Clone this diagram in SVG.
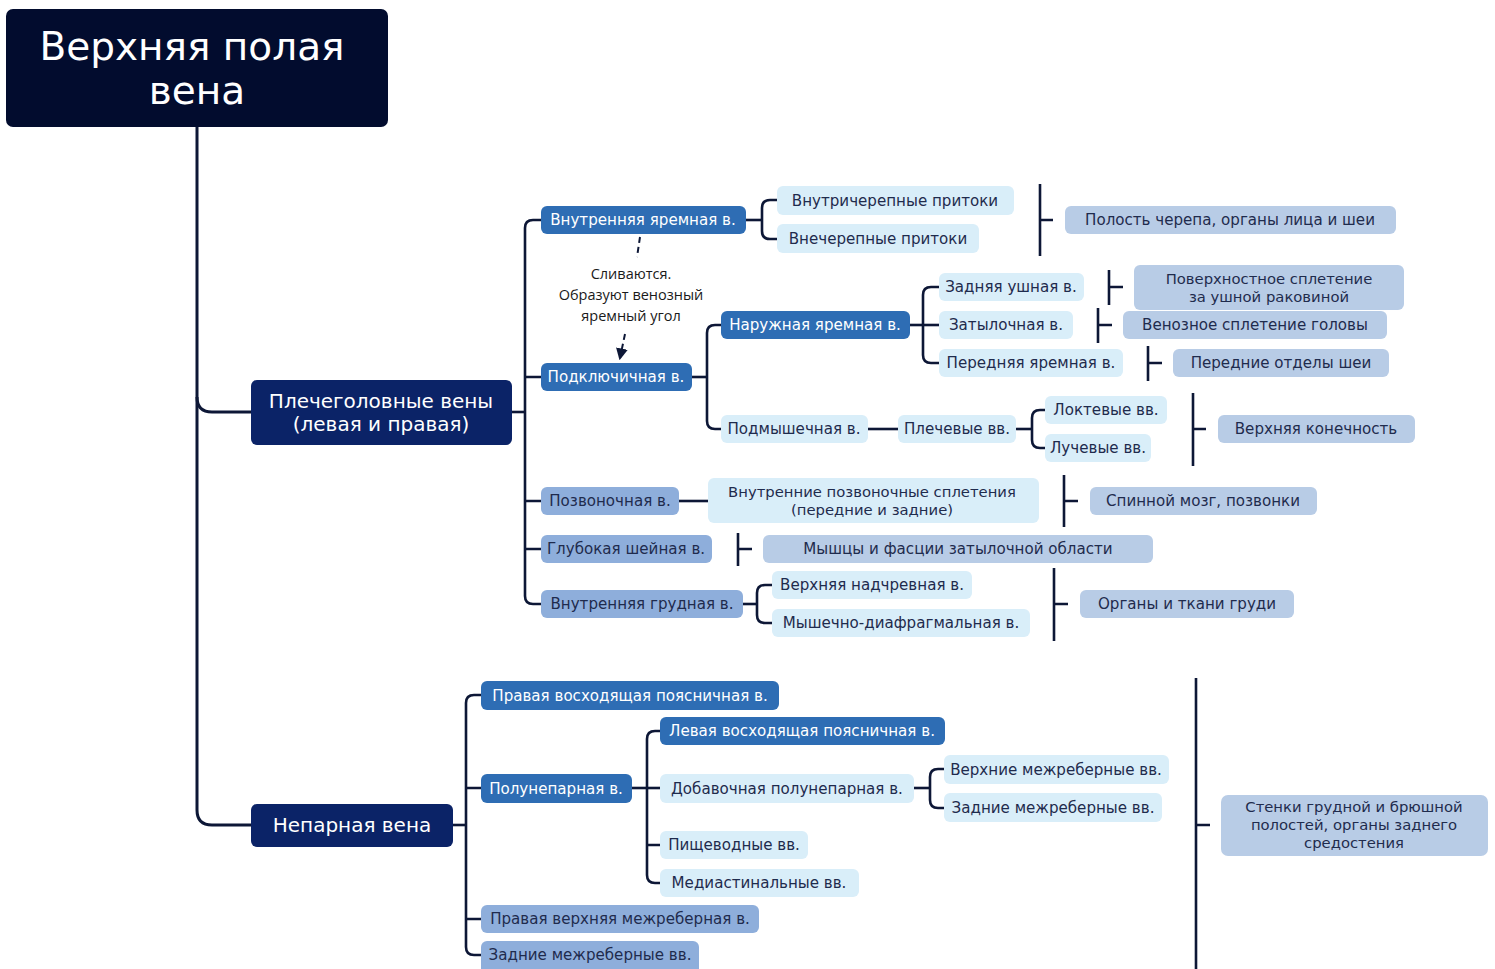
<svg xmlns="http://www.w3.org/2000/svg" width="1495" height="969" viewBox="0 0 1495 969">
<defs>
<style>
text{font-family:"DejaVu Sans","Open Sans",sans-serif;text-anchor:middle}
.t0{fill:#020c2e}.c1{fill:#0b2367}.c2{fill:#2e6db4}.c3{fill:#8eaedb}.c4{fill:#d9eef9}.c5{fill:#b8cce6}
.tw{fill:#ffffff;font-size:15.1px}.td{fill:#1f2b4d;font-size:15.1px}
.tm{fill:#1f2b4d;font-size:14.8px}
.big{fill:#ffffff;font-size:20px}
.title{fill:#ffffff;font-size:39px}
.note{fill:#1a1a1a;font-size:14.5px;font-family:"Open Sans","Noto Sans",sans-serif}
.ln{fill:none;stroke:#0d1736;stroke-width:2.6;stroke-linecap:butt}
.root{fill:none;stroke:#0d1736;stroke-width:3}
.dash{fill:none;stroke:#0d1736;stroke-width:2;stroke-dasharray:6 4}
</style>
<marker id="ah" viewBox="0 0 10 10" refX="8" refY="5" markerWidth="6" markerHeight="6" orient="auto">
<path d="M0,0 L10,5 L0,10 z" fill="#0d1736"/>
</marker>
</defs>
<rect width="1495" height="969" fill="#ffffff"/>
<g id="connectors">
<path class="root" d="M197,127 V810 Q197,825 212,825 H251"/>
<path class="root" d="M197,397 Q197,412 212,412 H251"/>
<path class="ln" d="M512,412 H525"/>
<path class="ln" d="M541,220 H533 Q525,220 525,228 V596 Q525,604 533,604 H541"/>
<path class="ln" d="M525,377 H541 M525,501 H541 M525,549 H541"/>
<path class="ln" d="M746,220 H762"/>
<path class="ln" d="M777,200 H770 Q762,200 762,208 V231 Q762,239 770,239 H777"/>
<path class="ln" d="M1040,184 V256 M1040,220 H1053"/>
<path class="ln" d="M692,377 H707"/>
<path class="ln" d="M721,325 H715 Q707,325 707,333 V421 Q707,429 715,429 H721"/>
<path class="ln" d="M910,325 H939"/>
<path class="ln" d="M939,287 H931 Q923,287 923,295 V355 Q923,363 931,363 H939"/>
<path class="ln" d="M1109,270 V305 M1109,287 H1123"/>
<path class="ln" d="M1098,308 V343 M1098,325 H1112"/>
<path class="ln" d="M1148,346 V381 M1148,363 H1162"/>
<path class="ln" d="M868,429 H898"/>
<path class="ln" d="M1016,429 H1032"/>
<path class="ln" d="M1045,410 H1040 Q1032,410 1032,418 V440 Q1032,448 1040,448 H1045"/>
<path class="ln" d="M1193,393 V466 M1193,429 H1206"/>
<path class="ln" d="M679,501 H708"/>
<path class="ln" d="M1064,475 V527 M1064,501 H1078"/>
<path class="ln" d="M738,533 V566 M738,549 H752"/>
<path class="ln" d="M743,604 H757"/>
<path class="ln" d="M772,585 H765 Q757,585 757,593 V615 Q757,623 765,623 H772"/>
<path class="ln" d="M1054,568 V641 M1054,604 H1068"/>
<path class="ln" d="M453,825 H466"/>
<path class="ln" d="M481,695 H474 Q466,695 466,703 V947 Q466,955 474,955 H481"/>
<path class="ln" d="M466,788 H481 M466,919 H481"/>
<path class="ln" d="M632,788 H660"/>
<path class="ln" d="M660,731 H655 Q647,731 647,739 V875 Q647,883 655,883 H660 M647,845 H660"/>
<path class="ln" d="M914,788 H930"/>
<path class="ln" d="M944,769 H938 Q930,769 930,777 V800 Q930,808 938,808 H944"/>
<path class="ln" d="M1196,678 V969 M1196,825 H1210"/>
<path class="dash" d="M640,237 L637,257"/>
<path class="dash" d="M625,334 L620,358" marker-end="url(#ah)"/>
</g>
<g id="title"><rect class="t0" x="6" y="9" width="382" height="118" rx="7"/><text class="title" x="192" y="60">Верхняя полая</text><text class="title" x="197" y="104">вена</text></g>
<g id="note"><text class="note" x="631" y="279">Сливаются.</text><text class="note" x="631" y="300">Образуют венозный</text><text class="note" x="631" y="321">яремный угол</text></g>
<g id="n-brachio"><rect class="c1" x="251" y="380" width="261" height="65" rx="6"/><text class="big" x="381" y="408">Плечеголовные вены</text><text class="big" x="381" y="431">(левая и правая)</text></g>
<g id="n-ijv"><rect class="c2" x="541" y="206" width="205" height="28" rx="6"/><text class="tw" x="643" y="225">Внутренняя яремная в.</text></g>
<g id="n-intracr"><rect class="c4" x="777" y="186" width="237" height="29" rx="6"/><text class="td" x="895" y="206">Внутричерепные притоки</text></g>
<g id="n-extracr"><rect class="c4" x="777" y="224" width="202" height="29" rx="6"/><text class="td" x="878" y="244">Внечерепные притоки</text></g>
<g id="n-cavity"><rect class="c5" x="1065" y="206" width="331" height="28" rx="6"/><text class="td" x="1230" y="225">Полость черепа, органы лица и шеи</text></g>
<g id="n-subcl"><rect class="c2" x="541" y="363" width="151" height="28" rx="6"/><text class="tw" x="616" y="382">Подключичная в.</text></g>
<g id="n-ejv"><rect class="c2" x="721" y="311" width="189" height="28" rx="6"/><text class="tw" x="815" y="330">Наружная яремная в.</text></g>
<g id="n-postaur"><rect class="c4" x="939" y="273" width="145" height="28" rx="6"/><text class="td" x="1011" y="292">Задняя ушная в.</text></g>
<g id="n-occ"><rect class="c4" x="939" y="311" width="134" height="28" rx="6"/><text class="td" x="1006" y="330">Затылочная в.</text></g>
<g id="n-ajv"><rect class="c4" x="939" y="349" width="184" height="28" rx="6"/><text class="td" x="1031" y="368">Передняя яремная в.</text></g>
<g id="n-plexaur"><rect class="c5" x="1134" y="265" width="270" height="45" rx="6"/><text class="tm" x="1269" y="283.5">Поверхностное сплетение</text><text class="tm" x="1269" y="301.5">за ушной раковиной</text></g>
<g id="n-plexhead"><rect class="c5" x="1123" y="311" width="264" height="28" rx="6"/><text class="td" x="1255" y="330">Венозное сплетение головы</text></g>
<g id="n-neck"><rect class="c5" x="1173" y="349" width="216" height="28" rx="6"/><text class="td" x="1281" y="368">Передние отделы шеи</text></g>
<g id="n-axil"><rect class="c4" x="721" y="415" width="147" height="28" rx="6"/><text class="td" x="794" y="434">Подмышечная в.</text></g>
<g id="n-brach"><rect class="c4" x="898" y="415" width="118" height="28" rx="6"/><text class="td" x="957" y="434">Плечевые вв.</text></g>
<g id="n-ulnar"><rect class="c4" x="1045" y="396" width="122" height="28" rx="6"/><text class="td" x="1106" y="415">Локтевые вв.</text></g>
<g id="n-radial"><rect class="c4" x="1045" y="434" width="106" height="28" rx="6"/><text class="td" x="1098" y="453">Лучевые вв.</text></g>
<g id="n-limb"><rect class="c5" x="1218" y="415" width="197" height="28" rx="6"/><text class="td" x="1316" y="434">Верхняя конечность</text></g>
<g id="n-vert"><rect class="c3" x="541" y="487" width="138" height="28" rx="6"/><text class="td" x="610" y="506">Позвоночная в.</text></g>
<g id="n-vplex"><rect class="c4" x="708" y="478" width="331" height="45" rx="6"/><text class="tm" x="872" y="496.5">Внутренние позвоночные сплетения</text><text class="tm" x="872" y="514.5">(передние и задние)</text></g>
<g id="n-spine"><rect class="c5" x="1090" y="487" width="227" height="28" rx="6"/><text class="td" x="1203" y="506">Спинной мозг, позвонки</text></g>
<g id="n-deepc"><rect class="c3" x="541" y="535" width="171" height="28" rx="6"/><text class="td" x="626" y="554">Глубокая шейная в.</text></g>
<g id="n-muscles"><rect class="c5" x="763" y="535" width="390" height="28" rx="6"/><text class="td" x="958" y="554">Мышцы и фасции затылочной области</text></g>
<g id="n-ithor"><rect class="c3" x="541" y="590" width="202" height="28" rx="6"/><text class="td" x="642" y="609">Внутренняя грудная в.</text></g>
<g id="n-supepi"><rect class="c4" x="772" y="571" width="200" height="28" rx="6"/><text class="td" x="872" y="590">Верхняя надчревная в.</text></g>
<g id="n-musphr"><rect class="c4" x="772" y="609" width="258" height="28" rx="6"/><text class="td" x="901" y="628">Мышечно-диафрагмальная в.</text></g>
<g id="n-chest"><rect class="c5" x="1080" y="590" width="214" height="28" rx="6"/><text class="td" x="1187" y="609">Органы и ткани груди</text></g>
<g id="n-azygos"><rect class="c1" x="251" y="804" width="202" height="43" rx="6"/><text class="big" x="352" y="832">Непарная вена</text></g>
<g id="n-ralv"><rect class="c2" x="481" y="681" width="298" height="29" rx="6"/><text class="tw" x="630" y="701">Правая восходящая поясничная в.</text></g>
<g id="n-hemi"><rect class="c2" x="481" y="774" width="151" height="29" rx="6"/><text class="tw" x="556" y="794">Полунепарная в.</text></g>
<g id="n-lalv"><rect class="c2" x="660" y="717" width="285" height="28" rx="6"/><text class="tw" x="802" y="736">Левая восходящая поясничная в.</text></g>
<g id="n-acchemi"><rect class="c4" x="660" y="774" width="254" height="29" rx="6"/><text class="td" x="787" y="794">Добавочная полунепарная в.</text></g>
<g id="n-supic"><rect class="c4" x="944" y="755" width="225" height="29" rx="6"/><text class="td" x="1056" y="775">Верхние межреберные вв.</text></g>
<g id="n-postic1"><rect class="c4" x="944" y="793" width="218" height="29" rx="6"/><text class="td" x="1053" y="813">Задние межреберные вв.</text></g>
<g id="n-esoph"><rect class="c4" x="660" y="831" width="148" height="28" rx="6"/><text class="td" x="734" y="850">Пищеводные вв.</text></g>
<g id="n-medi"><rect class="c4" x="660" y="869" width="199" height="28" rx="6"/><text class="td" x="759" y="888">Медиастинальные вв.</text></g>
<g id="n-rsic"><rect class="c3" x="481" y="905" width="278" height="28" rx="6"/><text class="td" x="620" y="924">Правая верхняя межреберная в.</text></g>
<g id="n-postic2"><rect class="c3" x="481" y="941" width="218" height="34" rx="6"/><text class="td" x="590" y="960">Задние межреберные вв.</text></g>
<g id="n-walls"><rect class="c5" x="1221" y="795" width="267" height="61" rx="7"/><text class="tm" x="1354" y="812">Стенки грудной и брюшной</text><text class="tm" x="1354" y="830">полостей, органы заднего</text><text class="tm" x="1354" y="848">средостения</text></g>
</svg>
